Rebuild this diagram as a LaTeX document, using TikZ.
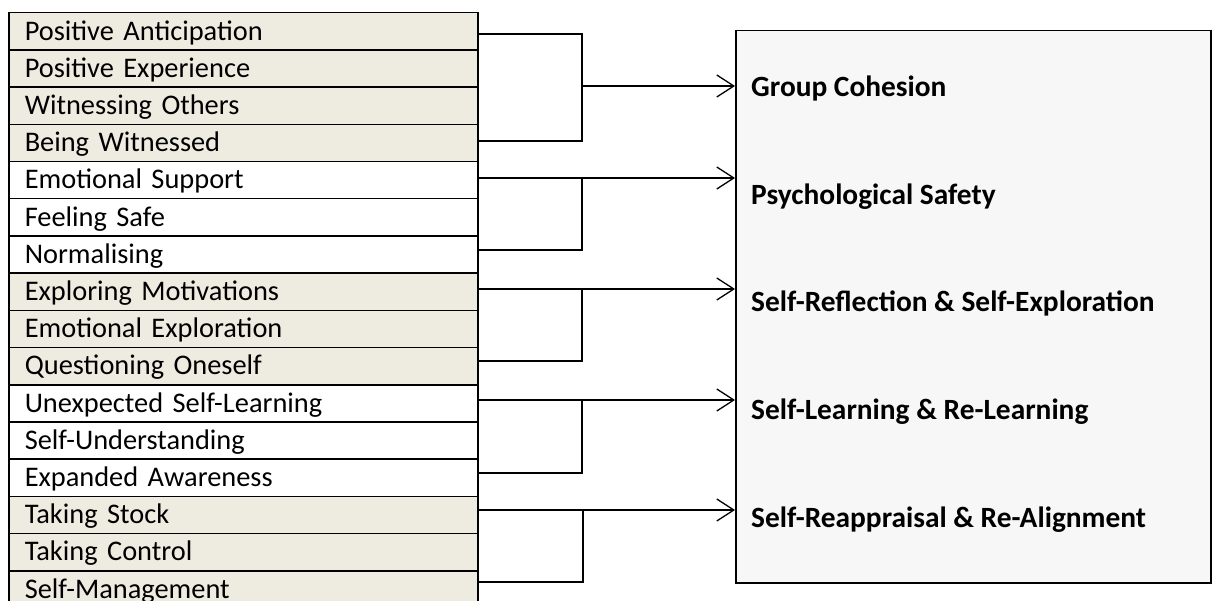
\documentclass[tikz,border=0pt]{standalone}
\usepackage{fontspec}
\setmainfont{Carlito}
\usetikzlibrary{arrows.meta}
\definecolor{tan}{HTML}{EEECE1}
\definecolor{panel}{HTML}{F7F7F7}
\begin{document}
\begin{tikzpicture}[x=1bp,y=-1bp,
  rowbox/.style={draw=black, line width=1.5bp, rectangle, anchor=north west,
    minimum width=469bp, inner xsep=16bp, inner ysep=0pt,
    text width=437bp, align=left, text height=27.3bp, text depth=9.9bp,
    font=\fontsize{28.5}{32}\selectfont},
  tanrow/.style={rowbox, fill=tan},
  whiterow/.style={rowbox, fill=white},
  outcome/.style={anchor=base west, inner sep=0pt,
    font=\fontsize{29.5}{34}\selectfont\bfseries},
  link/.style={draw=black, line width=1.5bp},
  arr/.style={link, -{Straight Barb[length=17bp,width=22bp,line width=1.3bp]}}]
\useasboundingbox (0,0) rectangle (1219,601);
\clip (0,0) rectangle (1219,601);

% outcome panel
\node[draw=black, line width=1.5bp, fill=panel, anchor=north west,
  minimum width=475bp, minimum height=552bp, inner sep=0pt] (out) at (735,30) {};

% list of experiences
\def\pitch{37.2}
\node[tanrow]   (r0)  at (8,12+0*\pitch)  {Positive Anticipation};
\node[tanrow]   (r1)  at (8,12+1*\pitch)  {Positive Experience};
\node[tanrow]   (r2)  at (8,12+2*\pitch)  {Witnessing Others};
\node[tanrow]   (r3)  at (8,12+3*\pitch)  {Being Witnessed};
\node[whiterow] (r4)  at (8,12+4*\pitch)  {Emotional Support};
\node[whiterow] (r5)  at (8,12+5*\pitch)  {Feeling Safe};
\node[whiterow] (r6)  at (8,12+6*\pitch)  {Normalising};
\node[tanrow]   (r7)  at (8,12+7*\pitch)  {Exploring Motivations};
\node[tanrow]   (r8)  at (8,12+8*\pitch)  {Emotional Exploration};
\node[tanrow]   (r9)  at (8,12+9*\pitch)  {Questioning Oneself};
\node[whiterow] (r10) at (8,12+10*\pitch) {Unexpected Self-Learning};
\node[whiterow] (r11) at (8,12+11*\pitch) {Self-Understanding};
\node[whiterow] (r12) at (8,12+12*\pitch) {Expanded Awareness};
\node[tanrow]   (r13) at (8,12+13*\pitch) {Taking Stock};
\node[tanrow]   (r14) at (8,12+14*\pitch) {Taking Control};
\node[tanrow]   (r15) at (8,12+15*\pitch) {Self-Management};

% outcome labels
\node[outcome] (o1) at (751,97)  {Group Cohesion};
\node[outcome] (o2) at (751,205) {Psychological Safety};
\node[outcome] (o3) at (751,312) {Self-Reflection \& Self-Exploration};
\node[outcome] (o4) at (751,419) {Self-Learning \& Re-Learning};
\node[outcome] (o5) at (751,527) {Self-Reappraisal \& Re-Alignment};

% group 1: bracket joined at its middle
\coordinate (j1) at (582,86);
\draw[link] (r0.east |- 0,34) -| (582,141) -- (r3.east |- 0,141);
\draw[arr] (j1) -- (j1 -| out.west);

% groups 2-5: arrow from the first row, bracket down to the last row
\draw[arr] (r4.east |- 0,178) -- (out.west |- 0,178);
\draw[link] (582,178) -- (582,250) -- (r6.east |- 0,250);

\draw[arr] (r7.east |- 0,289) -- (out.west |- 0,289);
\draw[link] (582,289) -- (582,361) -- (r9.east |- 0,361);

\draw[arr] (r10.east |- 0,400) -- (out.west |- 0,400);
\draw[link] (582,400) -- (582,473) -- (r12.east |- 0,473);

\draw[arr] (r13.east |- 0,510) -- (out.west |- 0,510);
\draw[link] (583,510) -- (583,582) -- (r15.east |- 0,582);
\end{tikzpicture}
\end{document}
